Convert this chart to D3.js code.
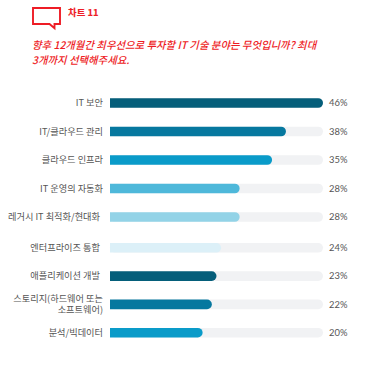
<!DOCTYPE html>
<html><head><meta charset="utf-8">
<script src="https://cdn.jsdelivr.net/npm/d3@7"></script>
<style>html,body{margin:0;padding:0;background:#fff}svg{display:block}text{font-family:"Noto Sans CJK KR","Noto Sans",sans-serif}</style>
</head><body><svg id="c" width="365" height="365"></svg>
<script>
const categories=["IT 보안","IT/클라우드 관리","클라우드 인프라","IT 운영의 자동화","레거시 IT 최적화/현대화","엔터프라이즈 통합","애플리케이션 개발","스토리지(하드웨어 또는|소프트웨어)","분석/빅데이터"];
const values=[46,38,35,28,28,24,23,22,20];
const valueLabels=["46%","38%","35%","28%","28%","24%","23%","22%","20%"];
const colors=["#055e7a","#06789f","#0a9bc9","#4eb8da","#93d3e7","#dcf0f8","#055e7a","#06789f","#0a9bc9"];
const chartTitle="차트 11";
const questionLines=["향후 12개월간 최우선으로 투자할 IT 기술 분야는 무엇입니까? 최대","3개까지 선택해주세요."];
const upper=categories.slice(0,5), lower=categories.slice(5);
const insetLabels=new Set(categories.slice(4,7));

const svg=d3.select("#c");
const x=d3.scaleLinear().domain([0,46]).range([110,323]);
const yU=d3.scalePoint().domain(upper).range([103,217]);
const yL=d3.scalePoint().domain(lower).range([247.8,332.7]);
const y=c=>upper.includes(c)?yU(c):yL(c);
const barH=9.6;

svg.append("path").attr("fill","none").attr("stroke","#ee1c25").attr("stroke-width",1.9)
  .attr("d",d3.line()([[33,8],[60,8],[60,24],[54.5,24],[54.5,28.3],[49.5,24],[33,24]])+"Z");
svg.append("text").attr("x",68).attr("y",16.3).attr("fill","#ee1c25").attr("font-size",9.4).attr("font-weight",700)
  .attr("stroke","#ee1c25").attr("stroke-width",0.15).text(chartTitle);
svg.selectAll("text.q").data(questionLines).join("text").attr("class","q")
  .attr("x",32).attr("y",(d,i)=>49+i*14.5).attr("fill","#ee1c25").attr("font-size",10.4).attr("font-weight",500).attr("font-style","italic").text(d=>d);

const rows=svg.selectAll("g.row").data(categories).join("g").attr("class","row");
rows.append("rect").attr("x",x(0)).attr("y",d=>y(d)-barH/2).attr("width",x(46)-x(0)).attr("height",barH)
  .attr("rx",barH/2).attr("fill","#f1f2f4");
rows.append("path").attr("fill",(d,i)=>colors[i]).attr("d",(d,i)=>{
  const r=barH/2,x0=x(0),x1=x(values[i]),cy=y(d);
  const p=d3.path();p.moveTo(x0,cy-r);p.lineTo(x1-r,cy-r);p.arc(x1-r,cy,r,-Math.PI/2,Math.PI/2);p.lineTo(x0,cy+r);p.closePath();return p.toString();
});
rows.append("text").attr("text-anchor","end").attr("fill","#555").attr("font-size",9.2)
  .each(function(d){
    const parts=d.split("|"),t=d3.select(this),cy=y(d);
    parts.forEach((s,i)=>t.append("tspan").attr("x",insetLabels.has(d)?100:103).attr("y",cy+3+(i-(parts.length-1)/2)*11.3).text(s));
  });
rows.append("text").attr("x",347.5).attr("y",d=>y(d)+3.3).attr("text-anchor","end").attr("fill","#555")
  .attr("font-size",9.4).style("font-family","Lato,'Open Sans',sans-serif").text((d,i)=>valueLabels[i]);
</script></body></html>
